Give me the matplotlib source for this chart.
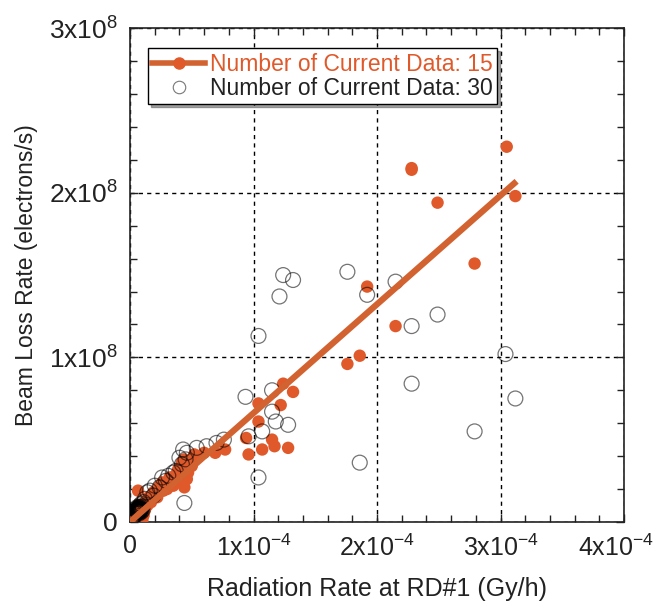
import matplotlib
matplotlib.use("Agg")
import matplotlib.pyplot as plt
import matplotlib.transforms as mtransforms
from matplotlib.ticker import MultipleLocator, FixedLocator, FixedFormatter

plt.rcParams["font.family"] = ["Liberation Sans", "DejaVu Sans"]
plt.rcParams["mathtext.fontset"] = "custom"
plt.rcParams["mathtext.rm"] = "Liberation Sans"
plt.rcParams["mathtext.it"] = "Liberation Sans"

# x in units of 1e-4 Gy/h, y in units of 1e8 electrons/s
cur15_x = [3.05, 2.28, 2.28, 2.49, 3.12, 2.79, 1.92, 2.15, 1.86, 1.76,
           1.24, 1.32, 1.04, 1.22, 1.04, 0.94, 1.15, 1.17, 0.96, 1.07,
           1.28, 0.77, 0.69, 0.60, 0.52, 0.44, 0.065,
           0.44, 0.43, 0.40, 0.36, 0.28, 0.23, 0.19, 0.15, 0.12, 0.10,
           0.055, 0.10, 0.02, 0.48, 0.39, 0.32, 0.26, 0.08, 0.04, 0.16,
           0.24, 0.065, 0.56, 0.47, 0.50, 0.12, 0.07,
           0.45, 0.42, 0.41, 0.38, 0.34, 0.30, 0.27, 0.21, 0.18, 0.14,
           0.11, 0.09, 0.06, 0.05, 0.03, 0.08, 0.13, 0.17, 0.22, 0.35,
           0.46, 0.43, 0.09, 0.06, 0.04, 0.11]
cur15_y = [2.28, 2.14, 2.15, 1.94, 1.98, 1.57, 1.43, 1.19, 1.01, 0.96,
           0.84, 0.79, 0.72, 0.71, 0.61, 0.51, 0.50, 0.46, 0.41, 0.44,
           0.45, 0.44, 0.42, 0.42, 0.41, 0.21, 0.19,
           0.38, 0.33, 0.28, 0.24, 0.22, 0.21, 0.18, 0.15, 0.12, 0.085,
           0.03, 0.01, 0.04, 0.36, 0.32, 0.27, 0.24, 0.06, 0.01, 0.13,
           0.19, 0.10, 0.40, 0.30, 0.34, 0.07, 0.00,
           0.31, 0.36, 0.25, 0.30, 0.27, 0.20, 0.19, 0.16, 0.14, 0.10,
           0.09, 0.05, 0.03, 0.06, 0.02, 0.02, 0.11, 0.12, 0.15, 0.22,
           0.26, 0.29, 0.03, 0.01, 0.00, 0.04]

cur30_x = [1.76, 1.92, 2.15, 2.28, 2.49, 3.04, 2.28, 3.12, 2.79, 1.86,
           1.24, 1.32, 1.21, 1.04, 0.935, 1.15, 1.15, 1.18, 1.28, 1.07,
           0.96, 1.04, 0.76, 0.70, 0.62, 0.54, 0.43, 0.46, 0.40, 0.42,
           0.35, 0.31, 0.26, 0.20, 0.16, 0.19, 0.14, 0.44,
           0.06, 0.07, 0.08, 0.05, 0.07, 0.09, 0.06, 0.08, 0.04, 0.10,
           0.05, 0.07, 0.06, 0.08, 0.03, 0.02, 0.09, 0.11, 0.12,
           0.065, 0.075, 0.055, 0.085, 0.06, 0.07, 0.08, 0.065, 0.075,
           0.05, 0.09, 0.07, 0.06, 0.08, 0.01, 0.24, 0.29, 0.37, 0.45,
           0.07, 0.065, 0.075, 0.06, 0.08, 0.07, 0.055, 0.085, 0.07,
           0.065, 0.075, 0.06, 0.08, 0.07, 0.10, 0.04]
cur30_y = [1.52, 1.38, 1.46, 1.19, 1.26, 1.02, 0.84, 0.75, 0.55, 0.36,
           1.50, 1.47, 1.37, 1.13, 0.76, 0.80, 0.67, 0.61, 0.59, 0.55,
           0.52, 0.27, 0.50, 0.48, 0.46, 0.45, 0.44, 0.42, 0.39, 0.35,
           0.30, 0.28, 0.27, 0.22, 0.19, 0.16, 0.18, 0.115,
           0.07, 0.08, 0.06, 0.05, 0.05, 0.08, 0.09, 0.10, 0.06, 0.07,
           0.08, 0.07, 0.06, 0.08, 0.03, 0.02, 0.11, 0.12, 0.14,
           0.07, 0.075, 0.065, 0.07, 0.08, 0.085, 0.065, 0.06, 0.09,
           0.07, 0.06, 0.07, 0.075, 0.09, 0.01, 0.21, 0.25, 0.31, 0.38,
           0.07, 0.068, 0.072, 0.075, 0.07, 0.065, 0.07, 0.075, 0.08,
           0.06, 0.065, 0.07, 0.065, 0.075, 0.09, 0.04]

fit_x = [0.0, 3.13]
fit_y = [0.0, 2.07]

x_ticks = [0, 1, 2, 3, 4]
x_labels = ["0", r"1x10$^{-4}$", r"2x10$^{-4}$", r"3x10$^{-4}$", r"4x10$^{-4}$"]
y_ticks = [0, 1, 2, 3]
y_labels = ["0", r"1x10$^{8}$", r"2x10$^{8}$", r"3x10$^{8}$"]

orange = "#E0592A"
line_c = "#D2622F"

fig = plt.figure(figsize=(6.58, 6.14), dpi=100)
ax = fig.add_axes([0.1976, 0.150, 0.7508, 0.804])

ax.scatter(cur15_x, cur15_y, s=80, color=orange, edgecolors="none", zorder=3)
ax.scatter(cur30_x, cur30_y, s=115, facecolors="none",
           edgecolors=(0, 0, 0, 0.55), linewidths=0.9, zorder=3.5)
ax.plot(fit_x, fit_y, color=line_c, lw=4.5, solid_capstyle="butt", zorder=4)

# legend proxies
h1, = ax.plot([], [], color=line_c, lw=4, marker="o", ms=8,
              markerfacecolor=orange, markeredgecolor=orange)
h2, = ax.plot([], [], ls="none", marker="o", ms=9, markerfacecolor="none",
              markeredgecolor="#777777", markeredgewidth=0.8)
leg = ax.legend([h1, h2], ["Number of Current Data: 15", "Number of Current Data: 30"],
                loc="upper left", bbox_to_anchor=(0.036, 0.96), fontsize=16.5,
                frameon=True, fancybox=False, shadow=True, handlelength=2.3,
                handletextpad=0.2, borderpad=0.2, labelspacing=0.05,
                borderaxespad=0.0)
leg.get_frame().set_edgecolor("black")
leg.get_frame().set_linewidth(1.0)
leg.get_texts()[0].set_color(orange)
leg.get_texts()[1].set_color("#222222")

ax.set_xlim(0, 4)
ax.set_ylim(0, 3)
ax.xaxis.set_major_locator(FixedLocator(x_ticks))
ax.xaxis.set_major_formatter(FixedFormatter(x_labels))
ax.yaxis.set_major_locator(FixedLocator(y_ticks))
ax.yaxis.set_major_formatter(FixedFormatter(y_labels))
ax.xaxis.set_minor_locator(MultipleLocator(0.2))
ax.yaxis.set_minor_locator(MultipleLocator(0.2))
ax.tick_params(which="both", direction="in", top=True, right=True,
               labelsize=19, colors="#222222")
ax.tick_params(axis="x", labelsize=18)
ax.tick_params(which="major", length=6, width=1, pad=9)
ax.tick_params(which="minor", length=5, width=1)

# keep the last x label inside the canvas
last = ax.get_xticklabels()[-1]
last.set_transform(last.get_transform() +
                   mtransforms.ScaledTranslation(-8 / 100, 0, fig.dpi_scale_trans))

ax.grid(True, which="major", color="black", ls=(0, (3, 3)), lw=1.0)
for sp in ax.spines.values():
    sp.set_linewidth(1.2)
    sp.set_color("#222222")

ax.set_xlabel("Radiation Rate at RD#1 (Gy/h)", fontsize=18, color="#222222", labelpad=12)
ax.set_ylabel("Beam Loss Rate (electrons/s)", fontsize=16.5, color="#222222", labelpad=8)

fig.savefig("out.png", dpi=100)
